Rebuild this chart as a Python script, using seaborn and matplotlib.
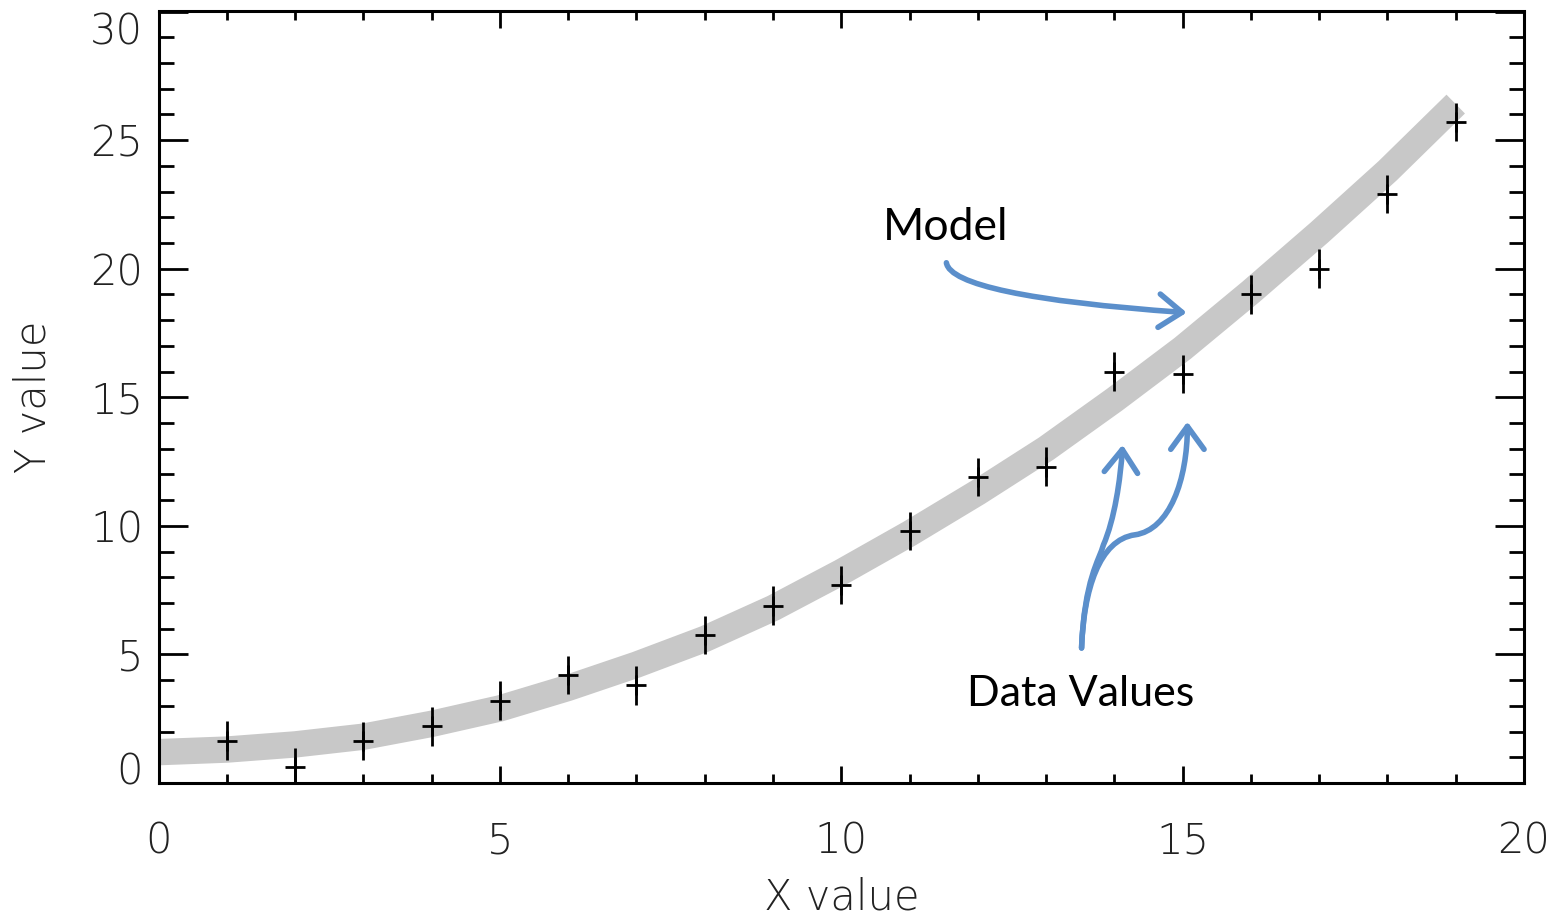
import numpy as np
import pandas as pd
import matplotlib
matplotlib.use("Agg")
import matplotlib.pyplot as plt
import matplotlib.transforms as mtransforms
from matplotlib.path import Path
from matplotlib.patches import FancyArrowPatch
from matplotlib.ticker import MultipleLocator
import seaborn as sns

# Model curve sampled at integer x
model_x = list(range(0, 20))
model_y = [1.2, 1.3, 1.5, 1.8, 2.3, 2.9, 3.7, 4.6, 5.6, 6.8,
           8.2, 9.7, 11.3, 13.0, 14.9, 16.9, 19.1, 21.4, 23.8, 26.4]

# Measured values with vertical uncertainty
data_x = list(range(1, 20))
data_y = [1.65, 0.62, 1.63, 2.2, 3.2, 4.2, 3.8, 5.75, 6.9, 7.7,
          9.8, 11.9, 12.3, 16.0, 15.9, 19.0, 20.0, 22.9, 25.7]
data_err = [0.75] * 19

x_ticks = [0, 5, 10, 15, 20]
y_ticks = [0, 5, 10, 15, 20, 25, 30]

sns.set_theme(style="white")
plt.rcParams["font.family"] = ["DejaVu Sans"]

fig = plt.figure(figsize=(15.6, 9.21), dpi=100)
ax = fig.add_axes([158.5 / 1560, 1 - 783 / 921, (1524 - 158.5) / 1560, (783 - 11.5) / 921])

model_df = pd.DataFrame({"x": model_x, "y": model_y})
sns.lineplot(data=model_df, x="x", y="y", ax=ax, color="#c8c8c8",
             linewidth=19, solid_capstyle="butt", zorder=1)

ax.errorbar(data_x, data_y, yerr=data_err, fmt="+", color="black",
            ecolor="black", elinewidth=2.0, capsize=0,
            markersize=14.5, markeredgewidth=2.0, zorder=3)

ax.set_xlim(0, 20)
ax.set_ylim(0, 30)
ax.set_xticks(x_ticks)
ax.set_yticks(y_ticks)
ax.xaxis.set_minor_locator(MultipleLocator(1))
ax.yaxis.set_minor_locator(MultipleLocator(1))

tick_font = dict(fontsize=30, fontweight="light", color="#222222")
ax.set_xticklabels([str(t) for t in x_ticks], **tick_font)
ax.set_yticklabels([str(t) for t in y_ticks], **tick_font)

ax.tick_params(axis="both", which="both", direction="in", top=True, right=True,
               bottom=True, left=True, color="black", width=2.0)
ax.tick_params(axis="x", which="major", length=12, pad=27)
ax.tick_params(axis="x", which="minor", length=6.5)
ax.tick_params(axis="y", which="major", length=21, pad=11)
ax.tick_params(axis="y", which="minor", length=10.5)

# Keep the end labels of the y axis inside the frame height
labels = ax.get_yticklabels()
shift = {"0": 15, "30": -16}
for lab in labels:
    dy = shift.get(lab.get_text(), 0)
    if dy:
        lab.set_transform(lab.get_transform() +
                          mtransforms.ScaledTranslation(0, dy / 100, fig.dpi_scale_trans))

for sp in ax.spines.values():
    sp.set_visible(True)
    sp.set_color("black")
    sp.set_linewidth(2.2)

ax.set_xlabel("X value", fontsize=30, fontweight="light", color="#222222", labelpad=11)
ax.set_ylabel("Y value", fontsize=30, fontweight="light", color="#222222", labelpad=26)

# Callout annotations
arrow_color = "#5b8fcb"
ann_font = dict(family=["Lato", "DejaVu Sans"], color="black")
ax.text(11.53, 21.6, "Model", ha="center", va="center", fontsize=32, **ann_font)
ax.text(13.50, 3.46, "Data Values", ha="center", va="center", fontsize=31, **ann_font)

C = Path.CURVE4
paths = [
    Path([(11.54, 20.23), (11.59, 19.38), (12.76, 18.72), (15.06, 18.29)],
         [Path.MOVETO, C, C, C]),
    Path([(13.52, 5.25), (13.56, 7.90), (13.78, 8.68), (13.84, 9.26),
          (14.00, 10.23), (14.09, 11.79), (14.12, 13.15)],
         [Path.MOVETO, C, C, C, C, C, C]),
    Path([(13.52, 5.25), (13.55, 7.51), (13.78, 9.46), (14.30, 9.65),
          (14.81, 9.84), (15.07, 11.79), (15.07, 14.05)],
         [Path.MOVETO, C, C, C, C, C, C]),
]
for p in paths:
    arr = FancyArrowPatch(path=p, transform=ax.transData,
                          arrowstyle="->,head_length=0.55,head_width=0.4",
                          mutation_scale=30, color=arrow_color, linewidth=4,
                          capstyle="round", joinstyle="round", zorder=5)
    ax.add_patch(arr)

fig.savefig("out.png", dpi=100, facecolor="white")
